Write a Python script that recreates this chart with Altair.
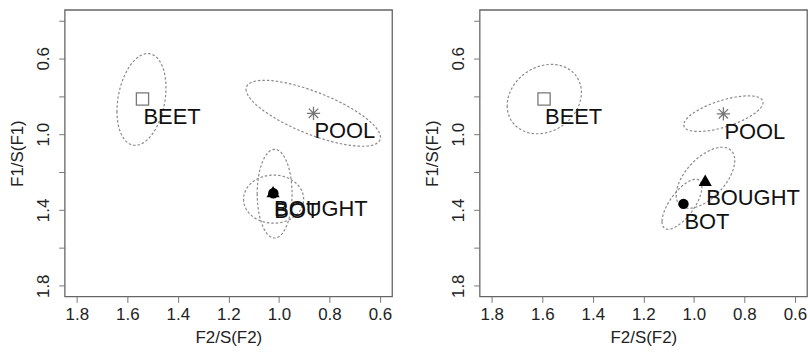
import numpy as np
import pandas as pd
import altair as alt

vowels = ["BEET", "POOL", "BOUGHT", "BOT"]

# Vowel means: normalised F2 (x) and normalised F1 (y)
f2_left = [1.540, 0.863, 1.023, 1.022]
f1_left = [0.815, 0.890, 1.303, 1.312]
f2_right = [1.593, 0.883, 0.955, 1.041]
f1_right = [0.815, 0.893, 1.243, 1.368]

# Dispersion ellipses: centre, half-extent along F2 and F1, F2/F1 correlation
ell_cx_left = [1.544, 0.864, 1.017, 1.021]
ell_cy_left = [0.817, 0.890, 1.314, 1.343]
ell_rx_left = [0.097, 0.266, 0.069, 0.119]
ell_ry_left = [0.242, 0.174, 0.234, 0.127]
ell_rho_left = [0.255, -0.729, 0.0, 0.0]

ell_cx_right = [1.592, 0.883, 0.954, 1.047]
ell_cy_right = [0.815, 0.892, 1.230, 1.370]
ell_rx_right = [0.147, 0.157, 0.116, 0.079]
ell_ry_right = [0.183, 0.094, 0.161, 0.132]
ell_rho_right = [0.190, 0.628, 0.568, 0.690]

x_ticks = [1.8, 1.6, 1.4, 1.2, 1.0, 0.8, 0.6]
y_ticks = [0.4, 0.6, 0.8, 1.0, 1.2, 1.4, 1.6, 1.8]

X_DOMAIN = [0.552, 1.848]
Y_DOMAIN = [0.344, 1.856]
W, H = 329, 288

FONT = "Liberation Sans"
ASTERISK = "M-1,0L1,0M0,-1L0,1M-0.71,-0.71L0.71,0.71M-0.71,0.71L0.71,-0.71"


def ellipse_outline(cx, cy, rx, ry, rho, n=90):
    rows = []
    for v, x0, y0, a, b, r in zip(vowels, cx, cy, rx, ry, rho):
        t = np.linspace(0, 2 * np.pi, n + 1)
        xs = x0 + a * np.cos(t)
        ys = y0 + b * (r * np.cos(t) + np.sqrt(1 - r * r) * np.sin(t))
        for i, (xx, yy) in enumerate(zip(xs, ys)):
            rows.append({"vowel": v, "i": i, "f2": xx, "f1": yy})
    return pd.DataFrame(rows)


def panel(f2, f1, cx, cy, rx, ry, rho):
    pts = pd.DataFrame({"vowel": vowels, "f2": f2, "f1": f1})
    ell = ellipse_outline(cx, cy, rx, ry, rho)

    x_enc = alt.X(
        "f2:Q",
        scale=alt.Scale(domain=X_DOMAIN, reverse=True, nice=False, zero=False),
        axis=alt.Axis(
            values=x_ticks, format=".1f", domain=False, grid=False,
            tickSize=6, tickColor="#777", tickWidth=1,
            labelFontSize=17, labelFont=FONT, labelColor="#222", labelPadding=4,
            labelFlush=False, labelOverlap=False,
            title="F2/S(F2)", titleFont=FONT, titleFontSize=17,
            titleFontWeight="normal", titleColor="#222",
            titleX=W / 2, titleY=41, titleAlign="center", titleBaseline="middle",
        ),
    )
    y_enc = alt.Y(
        "f1:Q",
        scale=alt.Scale(domain=Y_DOMAIN, reverse=True, nice=False, zero=False),
        axis=alt.Axis(
            values=y_ticks, domain=False, grid=False,
            labelExpr="round(datum.value*10) % 4 == 2 ? format(datum.value, '.1f') : ''",
            tickSize=6, tickColor="#777", tickWidth=1,
            labelFontSize=17, labelFont=FONT, labelColor="#222",
            labelAngle=270, labelAlign="center", labelBaseline="alphabetic",
            labelPadding=10, labelFlush=False, labelOverlap=False,
            title="F1/S(F1)", titleFont=FONT, titleFontSize=17,
            titleFontWeight="normal", titleColor="#222",
            titleAngle=270, titleX=-47, titleY=H / 2,
            titleAlign="center", titleBaseline="middle",
        ),
    )

    base = alt.Chart(pts)

    ellipses = alt.Chart(ell).mark_line(
        color="#8a8a8a", strokeWidth=1.2, strokeDash=[2.5, 2]
    ).encode(x=x_enc, y=y_enc, detail="vowel:N", order="i:Q")

    def marker(vowel, shape, size, filled, color):
        return base.transform_filter(alt.datum.vowel == vowel).mark_point(
            shape=shape, size=size, filled=filled, color=color,
            opacity=1, strokeWidth=1.3,
        ).encode(x="f2:Q", y="f1:Q")

    beet = marker("BEET", "square", 151, False, "#777")
    pool = marker("POOL", ASTERISK, 177, False, "#777")
    bot = marker("BOT", "circle", 110, True, "#000")
    bought = marker("BOUGHT", "triangle-up", 175, True, "#000")

    labels = base.mark_text(
        align="left", baseline="alphabetic", dx=1, dy=25,
        font=FONT, fontSize=22, color="#111",
    ).encode(x="f2:Q", y="f1:Q", text="vowel:N")

    return alt.layer(ellipses, beet, pool, bot, bought, labels).properties(
        width=W, height=H
    )


left = panel(f2_left, f1_left, ell_cx_left, ell_cy_left,
             ell_rx_left, ell_ry_left, ell_rho_left)
right = panel(f2_right, f1_right, ell_cx_right, ell_cy_right,
              ell_rx_right, ell_ry_right, ell_rho_right)

chart = alt.hconcat(left, right, spacing=30).properties(
    padding={"left": 8, "top": 8, "right": 2, "bottom": 0},
    background="white",
).configure_view(stroke="#666", strokeWidth=1.3)

chart.save("out.html", embed_options={"renderer": "svg", "actions": False})
